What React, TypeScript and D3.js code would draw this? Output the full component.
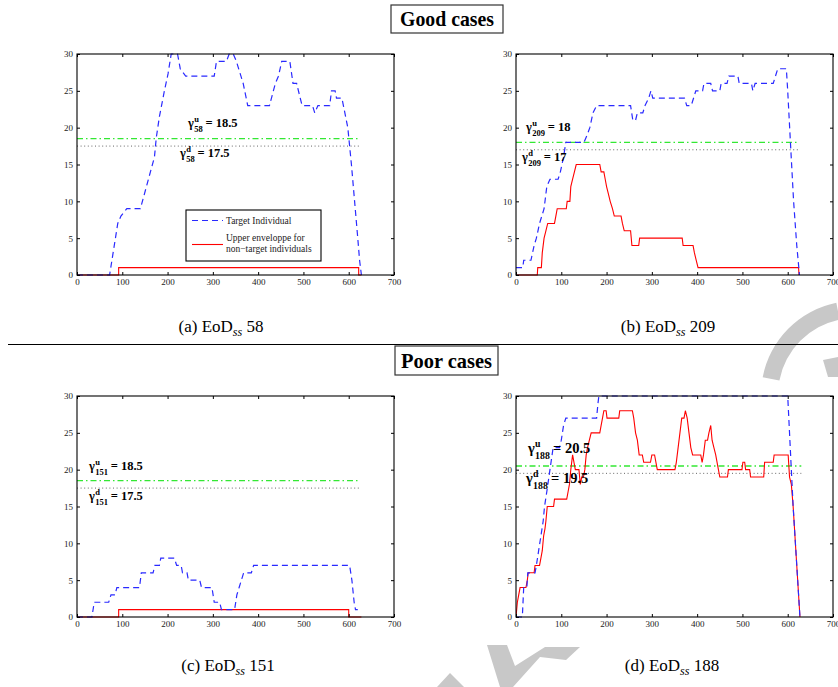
import React, { useEffect, useRef } from "react";
import * as d3 from "d3";

// axis ticks shared by all four panels
const xTicks = [0, 100, 200, 300, 400, 500, 600, 700];
const yTicks = [0, 5, 10, 15, 20, 25, 30];

// (a) EoD 58
const targetA = [[0,0],[72,0],[90,7],[97,8],[110,9],[140,9],[171,16],[175,18.6],[182,21.5],[193,25],[201,27.3],[208,30],[222,30],[228,28],[240,27],[303,27],[308,29],[330,29],[336,30],[345,30],[352,29],[367,26],[377,23],[425,23],[438,26],[445,27],[452,29],[470,29],[477,26],[485,26],[497,23],[520,23],[525,22],[532,23],[558,23],[562,25],[570,25],[573,24],[585,24],[598,20],[606,15],[613,10],[620,5],[624,2],[628,0]];
const envA = [[0,0],[92,0],[92,1],[622,1],[622,0],[628,0]];
const thrA = { up: 18.5, down: 17.5, end: 625 };

// (b) EoD 209
const targetB = [[0,1],[15,1],[17,2],[33,2],[40,4],[45,5],[52,7],[57,8],[62,9],[68,12],[75,13],[93,13],[98,14],[105,16],[110,18],[150,18],[157,19],[163,20],[170,22],[178,23],[253,23],[258,21],[264,21],[268,22],[280,22],[285,23],[293,24],[298,25],[302,24],[372,24],[377,23],[387,23],[392,24],[397,25],[412,25],[415,26],[430,26],[434,25],[450,25],[453,26],[466,26],[470,27],[490,27],[493,26],[520,26],[523,25],[528,26],[568,26],[573,27],[578,28],[597,28],[600,25],[606,18],[613,10],[620,4],[626,0]];
const envB = [[0,0],[47,0],[48,1],[56,1],[58,3],[62,5],[66,6],[70,7],[85,7],[88,8],[91,9],[111,9],[113,10],[119,10],[121,12],[125,13],[129,14],[133,15],[185,15],[188,14],[194,14],[197,13],[200,12],[204,11],[208,10],[213,9],[217,8],[232,8],[235,7],[239,6],[253,6],[256,4],[271,4],[273,5],[367,5],[369,4],[391,4],[394,3],[398,2],[402,1],[624,1],[625,0]];
const thrB = { up: 18, down: 17, end: 625 };

// (c) EoD 151
const targetC = [[0,0],[33,0],[38,2],[70,2],[75,3],[84,3],[88,4],[138,4],[142,6],[168,6],[172,7],[182,7],[185,8],[215,8],[220,7],[230,7],[233,6],[243,6],[246,5],[271,5],[275,4],[298,4],[303,2],[315,2],[319,1],[348,1],[353,3],[358,4],[368,6],[385,6],[390,7],[602,7],[607,5],[612,2],[615,1],[620,1]];
const envC = [[0,0],[92,0],[92,1],[600,1],[600,0],[628,0]];
const thrC = { up: 18.5, down: 17.5, end: 625 };

// (d) EoD 188
const targetD = [[0,0],[14,0],[17,4],[24,4],[26,6],[42,6],[45,7],[50,9],[55,11],[60,13],[63,15],[68,17],[75,20],[82,23],[96,23],[100,24],[105,26],[110,27],[178,27],[181,29],[183,30],[600,30],[604,25],[608,20],[612,15],[620,7],[627,0]];
const envD = [[0,0],[3,2],[6,3],[9,4],[22,4],[25,5],[27,6],[40,6],[42,7],[52,7],[55,8],[58,9],[61,11],[64,12],[66,13],[69,15],[83,15],[85,16],[112,16],[115,17],[118,18],[121,20],[125,22],[128,21],[131,20],[139,20],[142,18],[145,19],[149,19],[152,20],[155,22],[158,23],[162,24],[166,25],[185,25],[188,26],[191,27],[194,28],[199,28],[201,27],[227,27],[229,28],[257,28],[260,27],[264,25],[268,24],[272,22],[279,22],[282,21],[297,21],[300,22],[306,22],[309,21],[312,20],[351,20],[354,21],[358,23],[362,25],[366,27],[371,27],[374,28],[378,27],[382,25],[386,23],[390,22],[408,22],[411,21],[414,22],[418,24],[423,24],[426,25],[430,26],[433,24],[437,23],[441,22],[444,21],[447,20],[450,19],[467,19],[469,20],[499,20],[501,21],[505,21],[507,20],[516,20],[518,19],[547,19],[549,21],[568,21],[570,22],[601,22],[604,19],[608,18],[612,15],[620,7],[627,0]];
const thrD = { up: 20.5, down: 19.5, end: 630 };

const captions = ["(a)", "(b)", "(c)", "(d)"];
const ids = ["58", "209", "151", "188"];
const legendLabels = ["Target Individual", "Upper enveloppe for", "non\u2212target individuals"];

const serif = "Liberation Serif, DejaVu Serif, serif";
const W = 317, H = 221;

const panels = [
  { left: 77, top: 54, target: targetA, env: envA, thr: thrA, capX: 221, capY: 332,
    up: [188, 127, 12.5], down: [180, 157, 12.5] },
  { left: 516, top: 54, target: targetB, env: envB, thr: thrB, capX: 668, capY: 332,
    up: [526, 131, 12.5], down: [522, 161, 12.5] },
  { left: 77, top: 396, target: targetC, env: envC, thr: thrC, capX: 228, capY: 671,
    up: [89, 470, 12.5], down: [89, 500, 12.5] },
  { left: 516, top: 396, target: targetD, env: envD, thr: thrD, capX: 672, capY: 671,
    up: [528, 453, 14.5], down: [526, 483, 14.5] },
];

function gamma(svg, pos, sup, sub, value) {
  const [x, y, size] = pos;
  const g = svg.append("g").style("font-family", serif).attr("font-weight", "bold").attr("fill", "#000");
  const gam = g.append("text").attr("x", x).attr("y", y).attr("font-size", size).text("\u03b3");
  const sx = x + gam.node().getComputedTextLength() + 0.3;
  const small = size * 0.68;
  const a = g.append("text").attr("x", sx).attr("y", y - size * 0.4).attr("font-size", small).text(sup);
  const b = g.append("text").attr("x", sx).attr("y", y + size * 0.42).attr("font-size", small).text(sub);
  const w = Math.max(a.node().getComputedTextLength(), b.node().getComputedTextLength());
  g.append("text").attr("x", sx + w + size * 0.22).attr("y", y).attr("font-size", size).text("= " + value);
}

export default function App() {
  const ref = useRef(null);

  useEffect(() => {
    const svg = d3.select(ref.current);
    svg.selectAll("*").remove();

    // watermark (light grey)
    const wm = svg.append("g").attr("fill", "#c8c8c8");
    wm.append("path")
      .attr("transform", "translate(855,395)")
      .attr("d", d3.arc()({ innerRadius: 77, outerRadius: 94, startAngle: -1.38, endAngle: -0.2 }));
    wm.append("polygon").attr("points", "823,360 838,357 838,377 828,377");
    wm.append("polygon").attr("points", "437,687 450,673 464,687");
    wm.append("polygon").attr("points", "487,645 507,645 515,666 545,647 580,647 566,660 540,657 513,687 500,687");

    // section headers (condensed bold, like the figure)
    const headers = [["Good cases", 391, 5, 112, 28, 26, 94], ["Poor cases", 395, 346, 103, 29, 368, 91]];
    headers.forEach(([t, x, y, w, h, by, tl]) => {
      svg.append("rect").attr("x", x).attr("y", y).attr("width", w).attr("height", h)
        .attr("fill", "#fff").attr("stroke", "#333").attr("stroke-width", 1.2);
      svg.append("text").attr("x", x + (w - tl) / 2).attr("y", by)
        .attr("textLength", tl).attr("lengthAdjust", "spacingAndGlyphs")
        .style("font-family", serif).attr("font-weight", "bold").attr("font-size", 21).text(t);
    });
    svg.append("line").attr("x1", 8).attr("x2", 838).attr("y1", 344.5).attr("y2", 344.5)
      .attr("stroke", "#000").attr("stroke-width", 1);

    const x = d3.scaleLinear().domain([0, 700]).range([0, W]);
    const y = d3.scaleLinear().domain([0, 30]).range([H, 0]);
    const line = d3.line().x(d => x(d[0])).y(d => y(d[1]));

    panels.forEach((p, i) => {
      const g = svg.append("g").attr("transform", `translate(${p.left},${p.top})`);
      g.append("clipPath").attr("id", "clip" + i).append("rect")
        .attr("x", 0).attr("y", -1).attr("width", W).attr("height", H + 2);
      const plot = g.append("g").attr("clip-path", `url(#clip${i})`);

      // threshold lines
      plot.append("path").datum([[0, p.thr.down], [p.thr.end, p.thr.down]]).attr("d", line)
        .attr("fill", "none").attr("stroke", "#555").attr("stroke-width", 0.9).attr("stroke-dasharray", "1,2.6");
      plot.append("path").datum([[0, p.thr.up], [p.thr.end, p.thr.up]]).attr("d", line)
        .attr("fill", "none").attr("stroke", "#33e833").attr("stroke-width", 1.3).attr("stroke-dasharray", "6,3,1.5,3");

      plot.append("path").datum(p.env).attr("d", line)
        .attr("fill", "none").attr("stroke", "#ff0000").attr("stroke-width", 1.1);
      plot.append("path").datum(p.target).attr("d", line)
        .attr("fill", "none").attr("stroke", "#2a2aff").attr("stroke-width", 1.2).attr("stroke-dasharray", "6,4");

      // axes, MATLAB style inward ticks
      const fmt = d3.format("d");
      g.append("g").attr("transform", `translate(0,${H})`)
        .call(d3.axisBottom(x).tickValues(xTicks).tickFormat(fmt).tickSizeInner(-3).tickSizeOuter(0).tickPadding(4));
      g.append("g")
        .call(d3.axisLeft(y).tickValues(yTicks).tickFormat(fmt).tickSizeInner(-3).tickSizeOuter(0).tickPadding(4));
      g.append("g").call(d3.axisTop(x).tickValues(xTicks).tickFormat("").tickSizeInner(-3).tickSizeOuter(0));
      g.append("g").attr("transform", `translate(${W},0)`)
        .call(d3.axisRight(y).tickValues(yTicks).tickFormat("").tickSizeInner(-3).tickSizeOuter(0));
      g.selectAll(".domain").remove();
      g.selectAll("g").attr("font-family", null);
      g.selectAll(".tick line").attr("stroke", "#000");
      g.selectAll(".tick text").style("font-family", serif).attr("font-size", 9).attr("fill", "#222");
      g.append("rect").attr("width", W).attr("height", H).attr("fill", "none")
        .attr("stroke", "#000").attr("stroke-width", 1.1);

      gamma(svg, p.up, "u", ids[i], String(p.thr.up));
      gamma(svg, p.down, "d", ids[i], String(p.thr.down));

      // caption
      const cap = svg.append("text").attr("x", p.capX).attr("y", p.capY).attr("text-anchor", "middle")
        .style("font-family", serif).attr("font-size", 17);
      cap.append("tspan").text(captions[i] + " EoD");
      cap.append("tspan").attr("dy", 4).attr("font-size", 12).attr("font-style", "italic").text("ss");
      cap.append("tspan").attr("dy", -4).text(" " + ids[i]);
    });

    // legend in panel (a)
    const lg = svg.append("g");
    lg.append("rect").attr("x", 186).attr("y", 210).attr("width", 135).attr("height", 51)
      .attr("fill", "#fff").attr("stroke", "#000").attr("stroke-width", 1.1);
    lg.append("line").attr("x1", 192).attr("x2", 223).attr("y1", 220.5).attr("y2", 220.5)
      .attr("stroke", "#2a2aff").attr("stroke-width", 1.2).attr("stroke-dasharray", "6,4");
    lg.append("line").attr("x1", 192).attr("x2", 223).attr("y1", 244.5).attr("y2", 244.5)
      .attr("stroke", "#ff0000").attr("stroke-width", 1.1);
    [[223.5, 0], [240.5, 1], [251.5, 2]].forEach(([yy, k]) => {
      lg.append("text").attr("x", 226).attr("y", yy).style("font-family", serif).attr("font-size", 9.5)
        .attr("fill", "#222").text(legendLabels[k]);
    });
  }, []);

  return (
    <svg ref={ref} width={838} height={687}
      style={{ position: "absolute", left: 0, top: 0, background: "#fff" }} />
  );
}
